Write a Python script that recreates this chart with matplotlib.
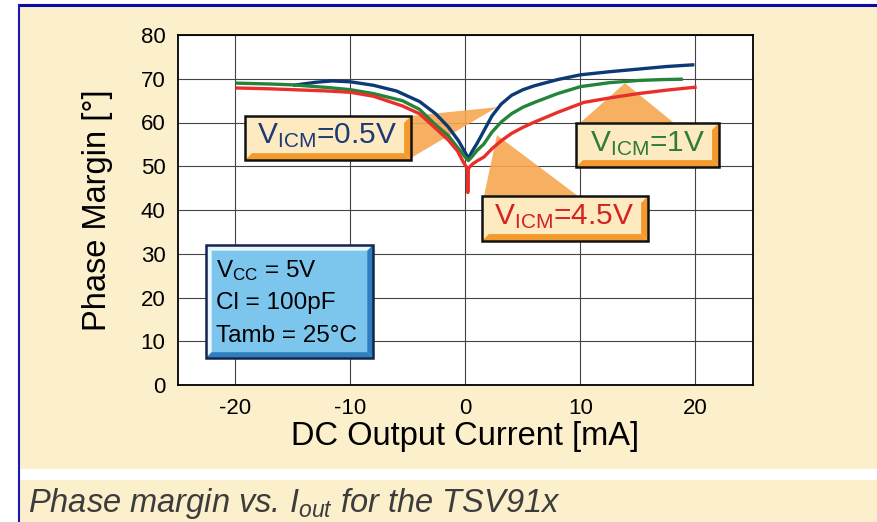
import matplotlib
matplotlib.use("Agg")
import matplotlib.pyplot as plt
from matplotlib.patches import Rectangle, Polygon

plt.rcParams['font.family'] = ['Liberation Sans', 'DejaVu Sans']
plt.rcParams['axes.unicode_minus'] = False

# --- dados ---
x_05 = [-15, -13, -11.6, -10, -8, -6, -4, -2.6, -1.5, -0.6, 0, 0.25, 0.6, 1.0, 1.6, 2.3, 3.1, 4, 5, 6, 8, 10, 12.5, 15, 17.5, 19.9]
y_05 = [68.5, 69.2, 69.5, 69.3, 68.5, 67.2, 64.8, 62.0, 59.0, 55.8, 53.0, 51.8, 53.5, 55.2, 58.1, 61.5, 64.2, 66.2, 67.5, 68.4, 69.8, 70.9, 71.6, 72.2, 72.8, 73.2]

x_1 = [-20, -17, -15, -12, -10, -8, -5.5, -4, -2.7, -1.5, -0.7, 0, 0.25, 0.6, 1.0, 1.6, 2.3, 3.1, 4, 5, 6, 8, 10, 12.5, 15, 17, 18.9]
y_1 = [69.0, 68.8, 68.6, 68.0, 67.5, 66.6, 65.0, 63.0, 59.7, 57.0, 54.3, 52.0, 51.3, 52.3, 53.6, 55.1, 57.8, 60.1, 62.0, 63.5, 64.6, 66.6, 68.2, 69.1, 69.6, 69.8, 69.9]

x_45 = [-20, -17, -15, -12, -10, -8, -5.5, -4, -2.7, -1.5, -0.7, -0.2, 0.15, 0.2, 0.25, 0.6, 1.0, 1.6, 2.3, 3.1, 4, 5, 6, 8, 10.3, 12.5, 15, 17.5, 20.1]
y_45 = [67.9, 67.7, 67.5, 67.2, 66.9, 66.0, 63.8, 62.0, 58.9, 56.0, 53.5, 51.0, 49.5, 44.0, 49.5, 50.5, 51.2, 52.1, 54.0, 55.8, 57.5, 58.9, 60.1, 62.3, 64.6, 65.6, 66.6, 67.4, 68.1]

x_ticks = [-20, -10, 0, 10, 20]
y_ticks = [0, 10, 20, 30, 40, 50, 60, 70, 80]

AZUL = '#0B3A76'
VERDE = '#23843A'
VERMELHO = '#E8302A'
CREME = '#FCEFCC'
LARANJA = '#F39A2E'

W, H = 877, 522

def fx(px):
    return px / W

def fy(py):
    return 1 - py / H

fig = plt.figure(figsize=(W / 100, H / 100), dpi=100)

# fundo creme com borda azul
fig.patches.append(Rectangle((fx(19), fy(469)), 1, fy(5) - fy(469), transform=fig.transFigure,
                             fc=CREME, ec='none', zorder=-10))
fig.patches.append(Rectangle((fx(19), 0), 1, fy(480), transform=fig.transFigure,
                             fc=CREME, ec='none', zorder=-10))
fig.lines.append(plt.Line2D([fx(19), 1], [fy(5), fy(5)], transform=fig.transFigure, color='#0A0AA8', lw=2.2, zorder=-5))
fig.lines.append(plt.Line2D([fx(19), fx(19)], [0, fy(5)], transform=fig.transFigure, color='#1A1AB0', lw=1.5, zorder=-5))

ax = fig.add_axes([fx(178), fy(385), (753 - 178) / W, (385 - 35) / H])
ax.set_facecolor('white')
ax.set_xlim(-25, 25)
ax.set_ylim(0, 80)
ax.set_xticks(x_ticks)
ax.set_yticks(y_ticks)
ax.tick_params(length=0, pad=9, labelsize=16)
ax.grid(True, color='#444444', lw=0.8)
ax.set_axisbelow(True)
for s in ax.spines.values():
    s.set_linewidth(1.3)

ax.set_ylabel('Phase Margin [°]', fontsize=23.5, labelpad=20)
ax.set_xlabel('DC Output Current [mA]', fontsize=23.5, labelpad=2)

ax.plot(x_05, y_05, color=AZUL, lw=2.4, zorder=3, solid_capstyle='butt')
ax.plot(x_1, y_1, color=VERDE, lw=2.4, zorder=3, solid_capstyle='butt')
ax.plot(x_45, y_45, color=VERMELHO, lw=2.4, zorder=3, solid_capstyle='butt')

# triangulos dos rotulos
for pts in ([(-4.74, 61.5), (-4.74, 51.9), (2.74, 63.5)],
            [(9.96, 59.9), (18.13, 59.9), (13.87, 69.0)],
            [(1.61, 43.2), (9.78, 43.2), (2.74, 57.1)]):
    ax.add_patch(Polygon(pts, closed=True, fc='#F7A651', ec='none', alpha=0.9, zorder=2.5))


def caixa(x0, x1, y0, y1, face, bevel, borda, dx=0.6, dy=1.6, realce=None):
    ax.add_patch(Rectangle((x0, y0), x1 - x0, y1 - y0, fc=face, ec='none', zorder=4))
    if realce:
        ax.add_patch(Polygon([(x0, y1), (x1, y1), (x1 - dx, y1 - dy), (x0 + dx, y1 - dy)], fc=realce, ec='none', zorder=4))
        ax.add_patch(Polygon([(x0, y0), (x0, y1), (x0 + dx, y1 - dy), (x0 + dx, y0 + dy)], fc=realce, ec='none', zorder=4))
    ax.add_patch(Polygon([(x0, y0), (x1, y0), (x1 - dx, y0 + dy), (x0 + dx, y0 + dy)], fc=bevel, ec='none', zorder=4))
    ax.add_patch(Polygon([(x1, y0), (x1, y1), (x1 - dx, y1 - dy), (x1 - dx, y0 + dy)], fc=bevel, ec='none', zorder=4))
    ax.add_patch(Rectangle((x0, y0), x1 - x0, y1 - y0, fill=False, ec=borda, lw=1.8, zorder=5))


caixa(-19.17, -4.74, 51.4, 61.5, '#FEEAC0', LARANJA, '#111111')
ax.text(-12.0, 56.9, r'$\mathregular{V_{ICM}}$=0.5V', color='#1C3A78', fontsize=21.5, ha='center', va='center', zorder=6)

caixa(9.61, 22.04, 49.8, 59.9, '#FEEAC0', LARANJA, '#111111')
ax.text(15.8, 55.2, r'$\mathregular{V_{ICM}}$=1V', color='#2E7D32', fontsize=21.5, ha='center', va='center', zorder=6)

caixa(1.43, 15.87, 32.9, 43.2, '#FEEAC0', LARANJA, '#111111')
ax.text(8.6, 38.4, r'$\mathregular{V_{ICM}}$=4.5V', color='#D42222', fontsize=21.5, ha='center', va='center', zorder=6)

# caixa azul com as condicoes
caixa(-22.57, -8.04, 6.2, 32.0, '#7CC6EE', '#2F7FBF', '#14244E', dx=0.5, dy=1.3, realce='#E8F6FF')
info = [r'$\mathregular{V_{CC}}$ = 5V', 'Cl = 100pF', 'Tamb = 25°C']
for i, t in enumerate(info):
    ax.text(-21.7, 26.2 - i * 7.55, t, fontsize=17.5, ha='left', va='center', zorder=6)

# legenda de baixo
fig.text(fx(28), fy(512), r'Phase margin vs. $\mathregular{I_{out}}$ for the TSV91x', fontsize=23.5,
         style='italic', color='#3C3C3C', ha='left', va='baseline')

fig.savefig('out.png', dpi=100)
